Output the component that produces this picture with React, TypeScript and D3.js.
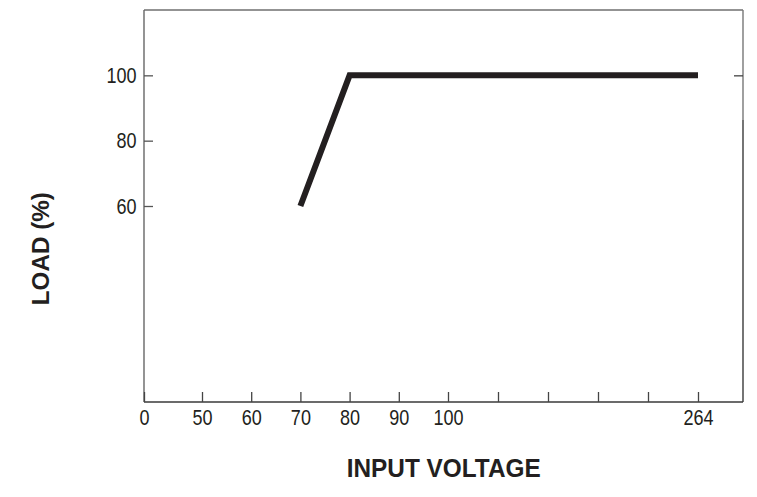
import React, { useEffect, useRef } from 'react';
import * as d3 from 'd3';

// input voltage (V) -> load (%)
const voltage = [70, 80, 264];
const load = [60, 100, 100];

// x axis breaks: linear 0-100, then compressed run up to 264
const xBreaks = [0, 50, 100, 264, 293.5];
const xTickValues = [0, 50, 60, 70, 80, 90, 100, 132.8, 165.6, 198.4, 231.2, 264];
const xTickLabels = ['0', '50', '60', '70', '80', '90', '100', '', '', '', '', '264'];
const yTickValues = [60, 80, 100];

const W = 757;
const H = 497;
const FONT = "'Liberation Sans', Arial, sans-serif";
const NARROW_SCALE = 0.82; // tick labels are set in a condensed face

export default function App() {
  const svgRef = useRef<SVGSVGElement | null>(null);

  useEffect(() => {
    if (!svgRef.current) return;
    const svg = d3.select(svgRef.current);
    svg.selectAll('*').remove();

    const left = 144;
    const right = 743;
    const top = 10;
    const bottom = 402;

    const x = d3.scaleLinear().domain(xBreaks).range([left, 202, 448, 698, right]);
    const y = d3.scaleLinear().domain([0, 120]).range([bottom, top]);

    // frame
    const frame = svg.append('g').attr('fill', 'none').attr('stroke-width', 1.4);
    frame.append('line').attr('x1', left).attr('x2', right).attr('y1', top).attr('y2', top).attr('stroke', '#6f6f6f');
    frame.append('line').attr('x1', left).attr('x2', left).attr('y1', top).attr('y2', bottom).attr('stroke', '#666');
    frame.append('line').attr('x1', right).attr('x2', right).attr('y1', top).attr('y2', 120).attr('stroke', '#777');
    frame.append('line').attr('x1', right).attr('x2', right).attr('y1', 120).attr('y2', bottom).attr('stroke', '#3a3a3a');
    frame.append('line').attr('x1', left).attr('x2', right).attr('y1', bottom).attr('y2', bottom).attr('stroke', '#3a3a3a');

    // x axis
    const xAxis = d3
      .axisBottom(x)
      .tickValues(xTickValues)
      .tickSize(-10)
      .tickPadding(7)
      .tickFormat((_, i) => xTickLabels[i]);
    const gx = svg.append('g').attr('transform', `translate(0,${bottom})`).call(xAxis);
    gx.select('.domain').remove();
    gx.selectAll('line').attr('stroke', '#444').attr('stroke-width', 1.3);
    gx.selectAll('text')
      .attr('fill', '#231f20')
      .attr('font-size', 22)
      .attr('font-family', FONT)
      .attr('transform', `scale(${NARROW_SCALE},1)`);

    // y axis
    const yAxis = d3.axisLeft(y).tickValues(yTickValues).tickSize(-9).tickPadding(7);
    const gy = svg.append('g').attr('transform', `translate(${left},0)`).call(yAxis);
    gy.select('.domain').remove();
    gy.selectAll('line').attr('stroke', '#555').attr('stroke-width', 1.3);
    gy.selectAll('text')
      .attr('fill', '#231f20')
      .attr('font-size', 22)
      .attr('font-family', FONT)
      .attr('x', -7.5 / NARROW_SCALE)
      .attr('transform', `scale(${NARROW_SCALE},1)`);

    // right side tick at 100
    const yRight = d3.axisRight(y).tickValues([100]).tickSize(-9).tickFormat(() => '');
    const gr = svg.append('g').attr('transform', `translate(${right},0)`).call(yRight);
    gr.select('.domain').remove();
    gr.selectAll('line').attr('stroke', '#444').attr('stroke-width', 1.3);

    // derating curve
    const pts = voltage.map((v, i) => [v, load[i]] as [number, number]);
    const line = d3
      .line<[number, number]>()
      .x((d) => x(d[0]))
      .y((d) => y(d[1]));
    svg
      .append('path')
      .attr('d', line(pts))
      .attr('fill', 'none')
      .attr('stroke', '#231f20')
      .attr('stroke-width', 6)
      .attr('stroke-linejoin', 'miter')
      .attr('stroke-linecap', 'butt');

    // axis titles
    svg
      .append('text')
      .attr('x', 443.7)
      .attr('y', 476.7)
      .attr('text-anchor', 'middle')
      .attr('font-family', FONT)
      .attr('font-weight', 'bold')
      .attr('font-size', 26)
      .attr('fill', '#231f20')
      .attr('textLength', 194)
      .attr('lengthAdjust', 'spacingAndGlyphs')
      .text('INPUT VOLTAGE');

    svg
      .append('text')
      .attr('transform', 'translate(48.5,248.7) rotate(-90)')
      .attr('text-anchor', 'middle')
      .attr('font-family', FONT)
      .attr('font-weight', 'bold')
      .attr('font-size', 24)
      .attr('fill', '#231f20')
      .attr('textLength', 113)
      .attr('lengthAdjust', 'spacingAndGlyphs')
      .text('LOAD (%)');
  }, []);

  return (
    <svg
      ref={svgRef}
      width={W}
      height={H}
      style={{ position: 'absolute', left: 0, top: 0, background: '#fff' }}
    />
  );
}
